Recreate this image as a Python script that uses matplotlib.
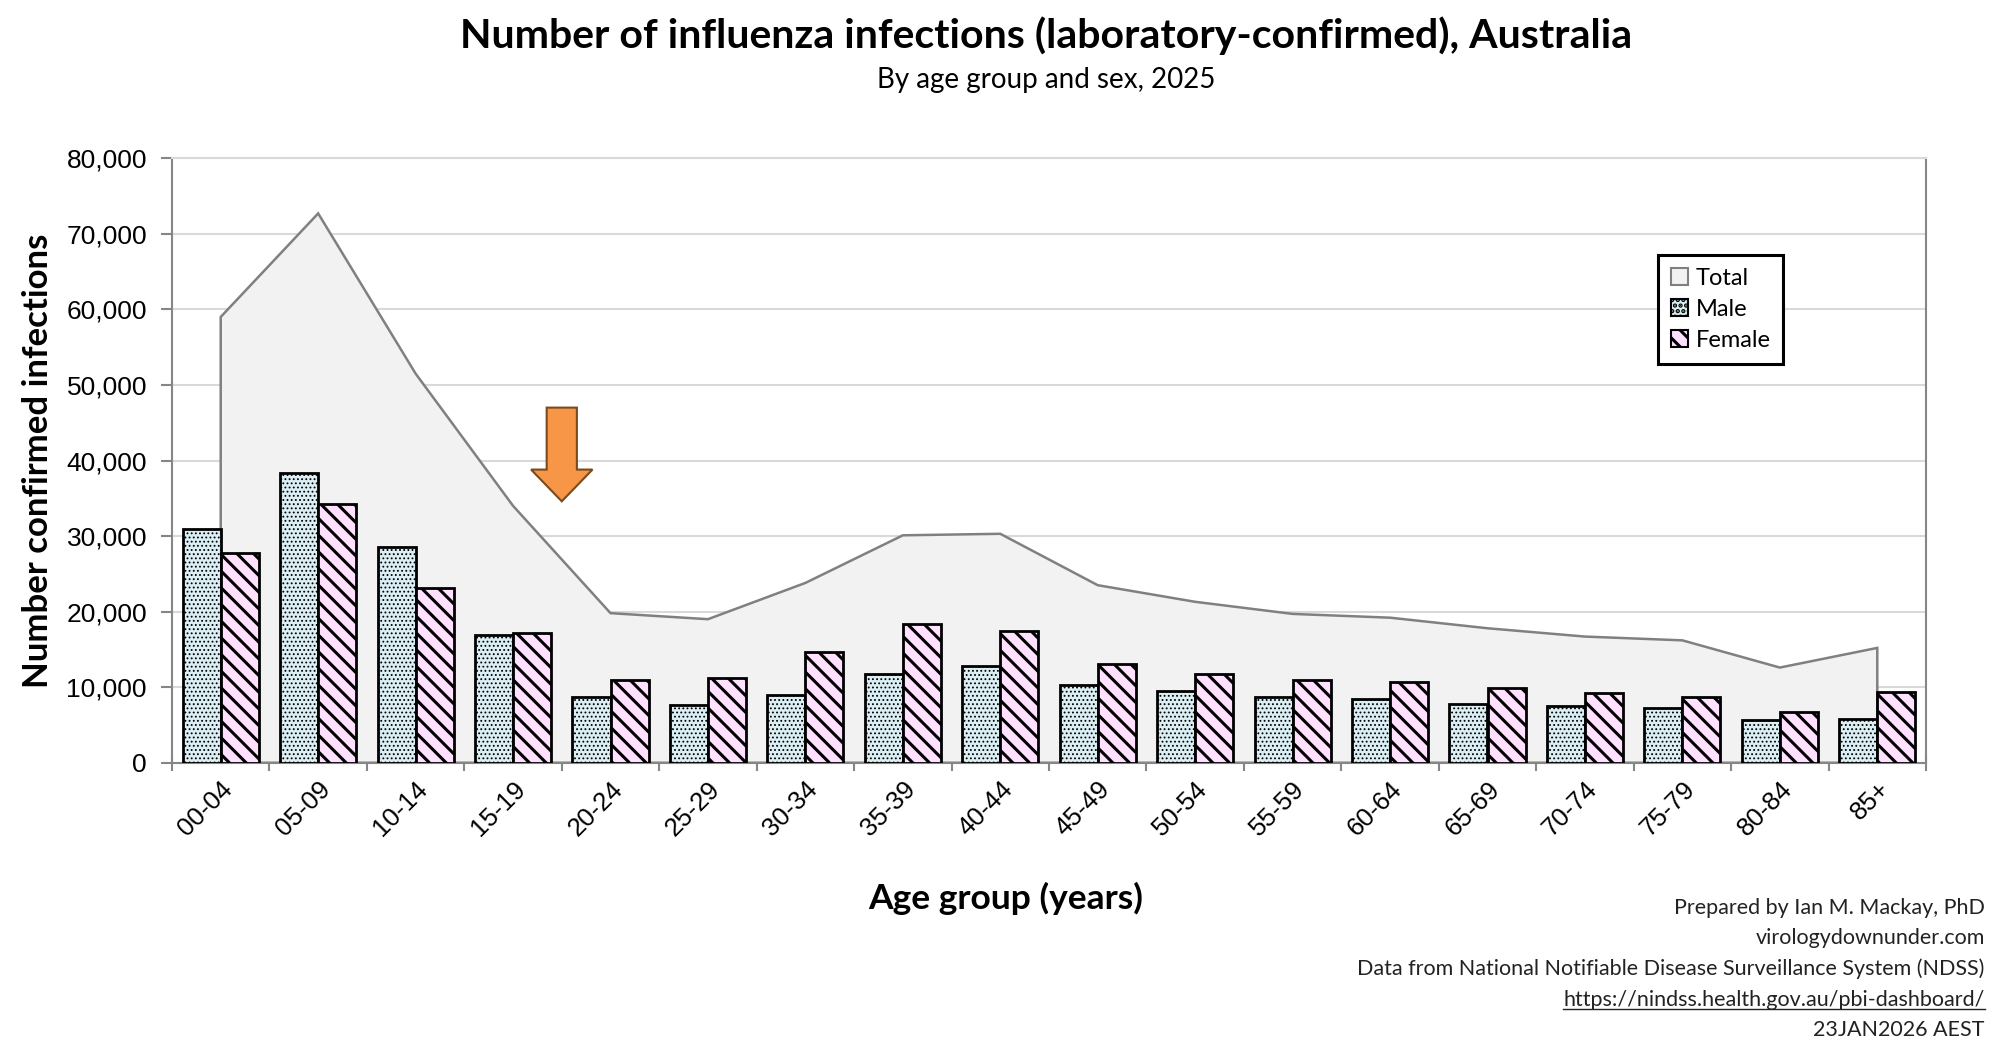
import numpy as np
import matplotlib
matplotlib.use("Agg")
import matplotlib.pyplot as plt
from matplotlib.patches import Patch, FancyArrow
from matplotlib.lines import Line2D

# age groups and counts
age_groups = ["00-04", "05-09", "10-14", "15-19", "20-24", "25-29", "30-34", "35-39", "40-44",
              "45-49", "50-54", "55-59", "60-64", "65-69", "70-74", "75-79", "80-84", "85+"]
total = [59000, 72700, 51500, 34000, 19800, 19000, 23800, 30100, 30300,
         23500, 21300, 19700, 19200, 17800, 16700, 16200, 12600, 15200]
male = [31000, 38300, 28500, 16900, 8700, 7700, 9000, 11800, 12800,
        10300, 9500, 8700, 8500, 7800, 7500, 7300, 5700, 5800]
female = [27800, 34200, 23100, 17200, 11000, 11200, 14700, 18300, 17500,
          13100, 11700, 10900, 10700, 9900, 9200, 8700, 6700, 9300]

TEXT_FONT = ["Lato", "DejaVu Sans"]
TICK_FONT = ["Liberation Sans", "DejaVu Sans"]

fig = plt.figure(figsize=(20, 10.55), dpi=100)
ax = fig.add_axes([0.086, 0.277, 0.877, 0.573])

x = np.arange(len(age_groups))
w = 0.39

# total as area behind the bars
ax.fill(np.r_[x[0], x, x[-1]], np.r_[0, total, 0], facecolor="#f2f2f2",
        edgecolor="#808080", linewidth=1.8, zorder=2)

plt.rcParams["hatch.linewidth"] = 0.8
mbars = ax.bar(x - w / 2, male, w, color="#daeef3", edgecolor="black",
               hatch="....", linewidth=2, zorder=3)
plt.rcParams["hatch.linewidth"] = 2.2
fbars = ax.bar(x + w / 2, female, w, color="#ffe0ff", edgecolor="black",
               hatch="\\\\", linewidth=2, zorder=3)
for b in mbars:
    if hasattr(b, "set_hatch_linewidth"):
        b.set_hatch_linewidth(0.8)
for b in fbars:
    if hasattr(b, "set_hatch_linewidth"):
        b.set_hatch_linewidth(2.2)

# arrow between 15-19 and 20-24
arr = FancyArrow(3.5, 47000, 0, -12400, width=0.31, head_width=0.63, head_length=4200,
                 length_includes_head=True, facecolor="#f79646", edgecolor="#7a4a1e",
                 linewidth=1.5, zorder=5)
ax.add_patch(arr)

ax.set_xlim(-0.5, len(age_groups) - 0.5)
ax.set_ylim(0, 80000)
ax.set_yticks(np.arange(0, 80001, 10000))
ax.set_yticklabels([f"{v:,}" for v in range(0, 80001, 10000)], fontsize=19, family=TICK_FONT)
ax.yaxis.grid(True, color="#d9d9d9", linewidth=1.5, zorder=0)
ax.set_axisbelow(True)

ax.set_xticks(np.arange(-0.5, len(age_groups), 1.0))
ax.set_xticklabels([])
ax.set_xticks(x, minor=True)
ax.set_xticklabels(age_groups, minor=True, rotation=45, ha="right", rotation_mode="anchor",
                   fontsize=18.5, family=TICK_FONT)
ax.tick_params(axis="x", which="major", direction="inout", length=12, width=1.5, color="#868686")
ax.tick_params(axis="x", which="minor", length=0, pad=10)
ax.tick_params(axis="y", direction="out", length=8, width=1.5, color="#868686", pad=10)

for s in ax.spines.values():
    s.set_color("#868686")
    s.set_linewidth(1.5)
ax.spines["top"].set_color("#d9d9d9")

ax.set_ylabel("Number confirmed infections", fontsize=25, fontweight="bold",
              family=TEXT_FONT, va="center")
ax.yaxis.set_label_coords(-0.0764, 0.5)
ax.set_xlabel("Age group (years)", fontsize=25.5, fontweight="bold", family=TEXT_FONT,
              va="center")
ax.xaxis.set_label_coords(0.475, -0.225)

handles = [Patch(facecolor="#f2f2f2", edgecolor="#808080", linewidth=1.5, label="Total"),
           Patch(facecolor="#daeef3", edgecolor="black", hatch="...", linewidth=1.5, label="Male"),
           Patch(facecolor="#ffe0ff", edgecolor="black", hatch="\\\\", linewidth=1.5, label="Female")]
leg = ax.legend(handles=handles, loc="upper left", bbox_to_anchor=(0.847, 0.84),
                borderaxespad=0, fancybox=False, edgecolor="black", framealpha=1,
                handlelength=0.75, handleheight=0.75, handletextpad=0.3, borderpad=0.55,
                labelspacing=0.42, prop={"family": TEXT_FONT, "size": 17})
leg.get_frame().set_linewidth(2.2)

fig.text(0.523, 0.966, "Number of influenza infections (laboratory-confirmed), Australia",
         ha="center", va="center", fontsize=29.5, fontweight="bold", family=TEXT_FONT)
fig.text(0.523, 0.924, "By age group and sex, 2025", ha="center", va="center",
         fontsize=20, family=TEXT_FONT)

credits = ["Prepared by Ian M. Mackay, PhD", "virologydownunder.com",
           "Data from National Notifiable Disease Surveillance System (NDSS)",
           "https://nindss.health.gov.au/pbi-dashboard/", "23JAN2026 AEST"]
ys = [0.139, 0.111, 0.082, 0.052, 0.024]
texts = []
for t, yy in zip(credits, ys):
    texts.append(fig.text(0.9924, yy, t, ha="right", va="center", fontsize=15.5,
                          family=TEXT_FONT, color="#222222"))

# underline the link
fig.canvas.draw()
bb = texts[3].get_window_extent()
inv = fig.transFigure.inverted()
x0, y0 = inv.transform((bb.x0, bb.y0 + 1))
x1, _ = inv.transform((bb.x1, bb.y0 + 1))
fig.add_artist(Line2D([x0, x1], [y0, y0], transform=fig.transFigure, color="#222222", lw=1))

fig.savefig("out.png", dpi=100)
